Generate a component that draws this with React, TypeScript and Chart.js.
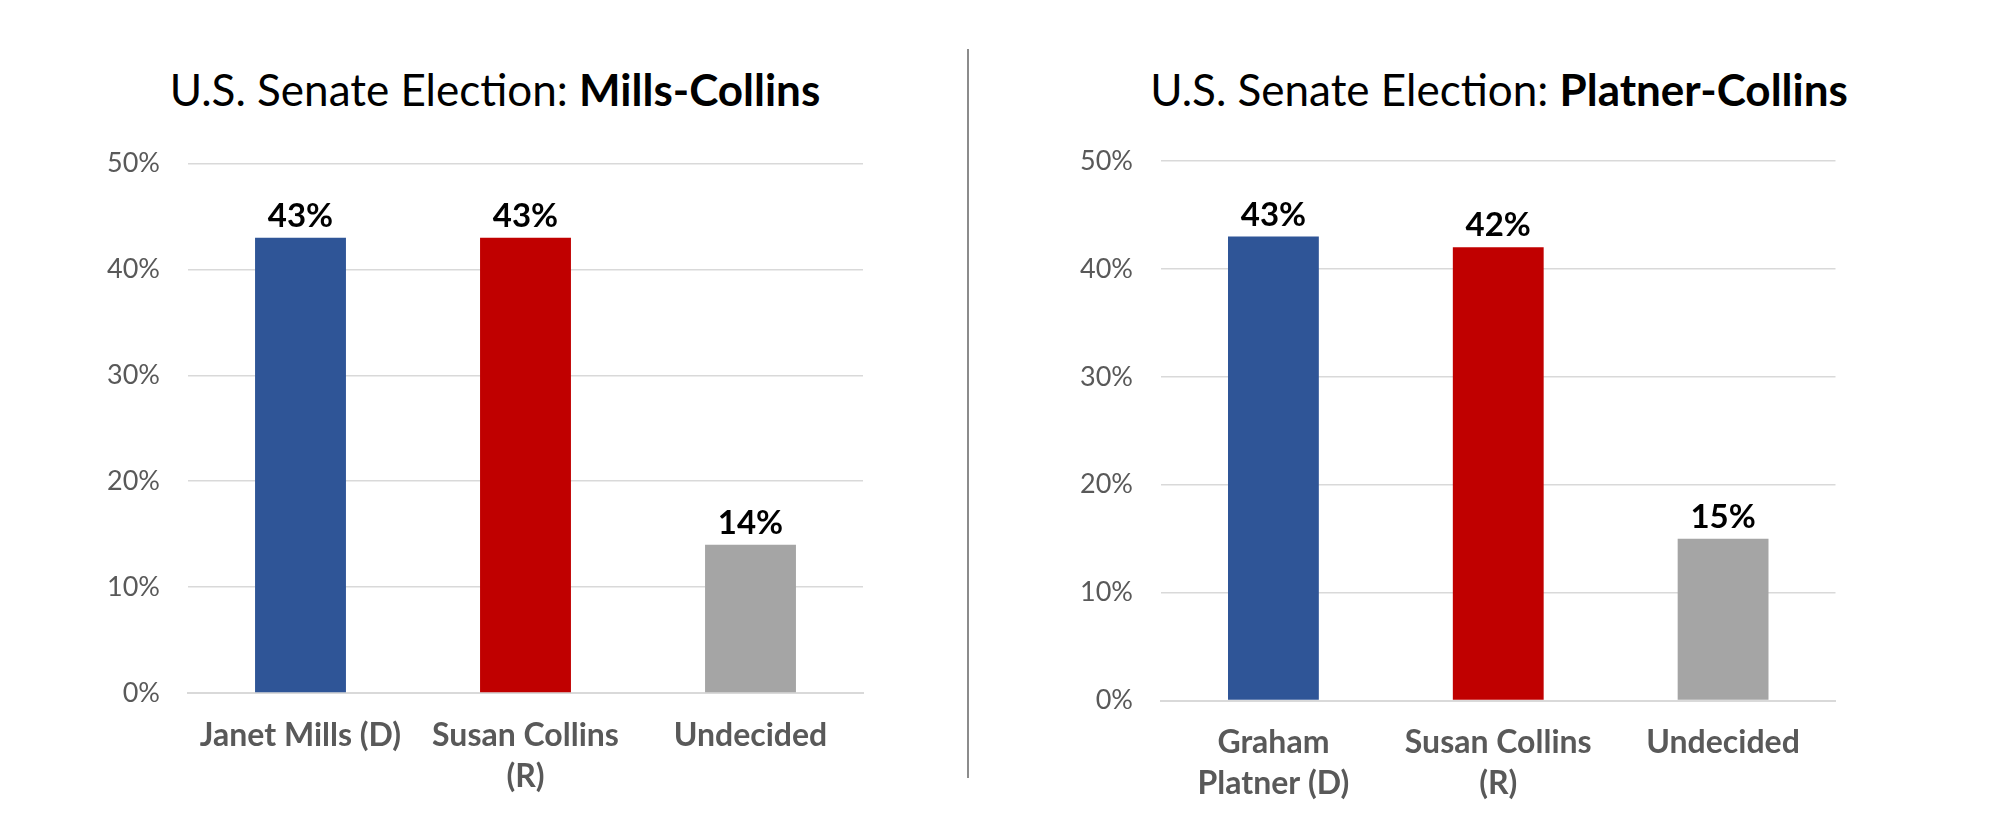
import React, { useEffect, useRef } from "react";
import { Chart, registerables } from "chart.js";

Chart.register(...registerables);

// ---------- Data ----------
const leftTitleRegular = "U.S. Senate Election: ";
const leftTitleBold = "Mills-Collins";
const leftCategories: (string | string[])[] = ["Janet Mills (D)", ["Susan Collins", "(R)"], "Undecided"];
const leftValues = [43, 43, 14];

const rightTitleRegular = "U.S. Senate Election: ";
const rightTitleBold = "Platner-Collins";
const rightCategories: (string | string[])[] = [["Graham", "Platner (D)"], ["Susan Collins", "(R)"], "Undecided"];
const rightValues = [43, 42, 15];

const barColors = ["#2F5597", "#C00000", "#A5A5A5"];
const yTicks = [0, 10, 20, 30, 40, 50];

const FONT = "Lato, 'Open Sans', sans-serif";

const dataLabelPlugin = {
  id: "dataLabels",
  afterDatasetsDraw(chart: any) {
    const ctx = chart.ctx;
    const meta = chart.getDatasetMeta(0);
    const data = chart.data.datasets[0].data;
    ctx.save();
    ctx.font = `bold 33px ${FONT}`;
    ctx.fillStyle = "#000000";
    ctx.textAlign = "center";
    ctx.textBaseline = "alphabetic";
    meta.data.forEach((bar: any, i: number) => {
      ctx.fillText(`${data[i]}%`, bar.x, bar.y - 11);
    });
    ctx.restore();
  },
};

type Layout = {
  width: number;
  height: number;
  left: number;
  right: number;
  top: number;
  bottom: number;
};

function BarChart({
  categories,
  values,
  layout,
}: {
  categories: (string | string[])[];
  values: number[];
  layout: Layout;
}) {
  const ref = useRef<HTMLCanvasElement | null>(null);
  useEffect(() => {
    if (!ref.current) return;
    const chart = new Chart(ref.current, {
      type: "bar",
      data: {
        labels: categories,
        datasets: [
          {
            data: values,
            backgroundColor: barColors,
            borderWidth: 0,
            categoryPercentage: 1,
            barPercentage: 0.404,
          },
        ],
      },
      options: {
        animation: false,
        responsive: false,
        maintainAspectRatio: false,
        devicePixelRatio: 1,
        layout: {
          padding: {
            left: 0,
            right: layout.width - layout.right,
            top: layout.top,
            bottom: 0,
          },
        },
        plugins: {
          legend: { display: false },
          title: { display: false },
          tooltip: { enabled: false },
        },
        scales: {
          x: {
            grid: { display: false, drawTicks: false },
            border: { display: true, color: "#D9D9D9", width: 2 },
            ticks: {
              color: "#595959",
              font: { family: FONT, size: 32, weight: "bold", lineHeight: 1.28 },
              padding: 22,
              maxRotation: 0,
              autoSkip: false,
            },
            afterFit: (scale: any) => {
              scale.height = layout.height - layout.bottom;
            },
          },
          y: {
            min: yTicks[0],
            max: yTicks[yTicks.length - 1],
            afterBuildTicks: (scale: any) => {
              scale.ticks = yTicks.map((v) => ({ value: v }));
            },
            grid: { color: "#D9D9D9", lineWidth: 1.5, drawTicks: false },
            border: { display: false },
            ticks: {
              color: "#595959",
              font: { family: FONT, size: 27 },
              padding: 28,
              callback: (v: any) => `${v}%`,
            },
            afterFit: (scale: any) => {
              scale.width = layout.left;
            },
          },
        },
      },
      plugins: [dataLabelPlugin],
    });
    return () => chart.destroy();
  }, []);
  return (
    <canvas
      ref={ref}
      width={layout.width}
      height={layout.height}
      style={{ width: layout.width, height: layout.height, display: "block" }}
    />
  );
}

const titleStyle: React.CSSProperties = {
  position: "absolute",
  top: 61,
  fontFamily: FONT,
  fontSize: 44,
  color: "#000",
  whiteSpace: "nowrap",
  transform: "translateX(-50%)",
  lineHeight: "56px",
};

export default function App() {
  return (
    <div
      style={{
        position: "absolute",
        left: 0,
        top: 0,
        width: 2000,
        height: 837,
        background: "#fff",
        overflow: "hidden",
      }}
    >
      <div style={{ ...titleStyle, left: 495 }}>
        {leftTitleRegular}
        <b>{leftTitleBold}</b>
      </div>
      <div style={{ ...titleStyle, left: 1499 }}>
        {rightTitleRegular}
        <b>{rightTitleBold}</b>
      </div>
      <div style={{ position: "absolute", left: 0, top: 0 }}>
        <BarChart
          categories={leftCategories}
          values={leftValues}
          layout={{ width: 960, height: 837, left: 188, right: 863, top: 163.5, bottom: 693 }}
        />
      </div>
      <div
        style={{
          position: "absolute",
          left: 967,
          top: 49,
          width: 1.5,
          height: 729,
          background: "#8C8C8C",
        }}
      />
      <div style={{ position: "absolute", left: 1000, top: 0 }}>
        <BarChart
          categories={rightCategories}
          values={rightValues}
          layout={{ width: 1000, height: 837, left: 161, right: 835.5, top: 161, bottom: 700.5 }}
        />
      </div>
    </div>
  );
}
